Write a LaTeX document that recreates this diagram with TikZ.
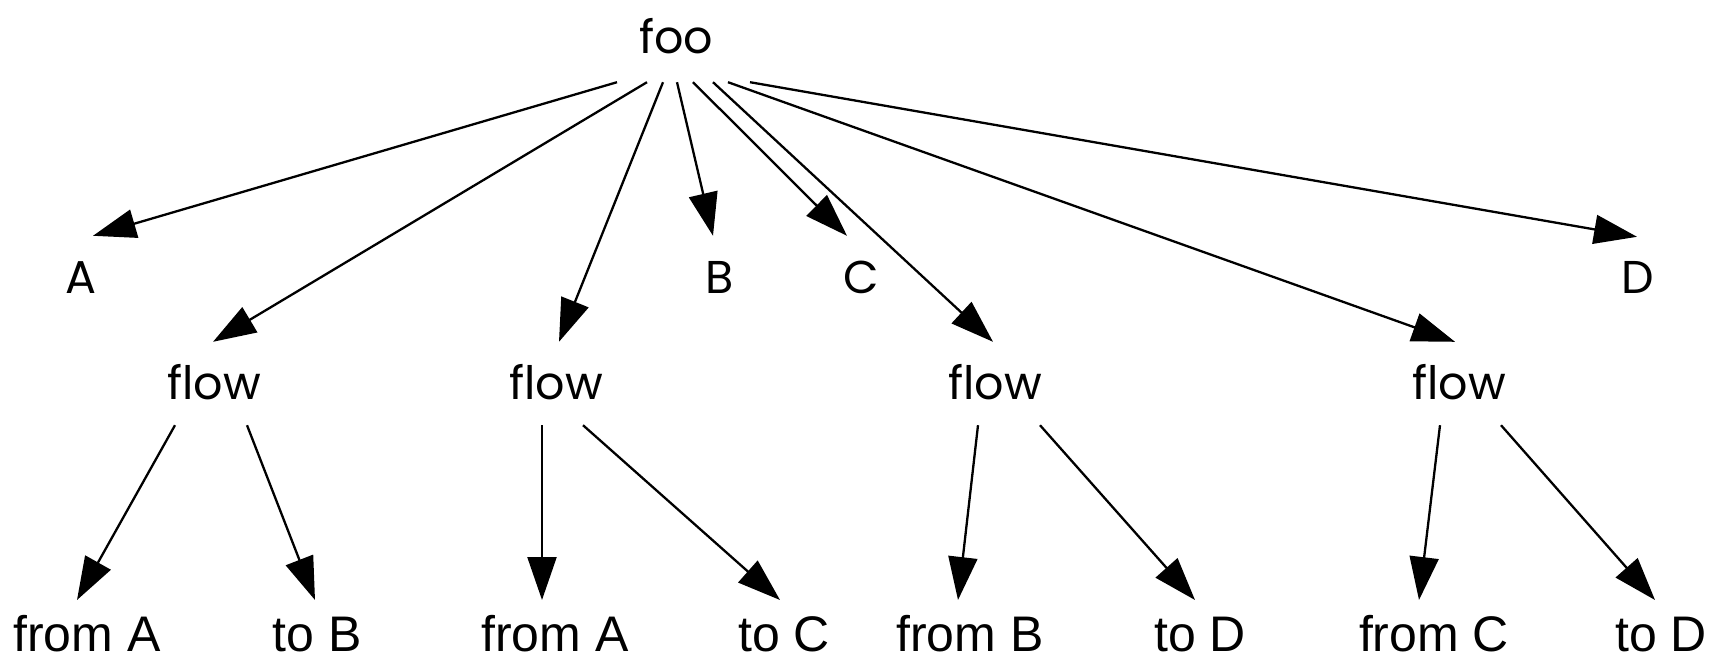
\documentclass[tikz,border=0pt]{standalone}
\usepackage{fontspec}
\setmainfont{Liberation Sans}
\newfontfamily\gothic{Poppins}
\usetikzlibrary{arrows.meta}
\begin{document}
\begin{tikzpicture}[x=1pt, y=-1pt,
  box/.style={rectangle, inner sep=0pt, minimum height=83pt,
              text height=40pt, text depth=8pt},
  upper/.style={box, font=\gothic\fontsize{46}{50}\selectfont},
  lower/.style={rectangle, inner sep=0pt, anchor=north,
                text height=51pt, text depth=10pt,
                font=\fontsize{50}{54}\selectfont},
  link/.style={line width=2.3pt, -{Triangle[length=43pt, width=29pt]}}]
\useasboundingbox (0,0) rectangle (1712,662);

% root
\node[upper, text depth=15pt] (foo) at (676,40.5) {foo};

% first level
\node[upper] (A) at (81,277.5)   {A};
\node[upper] (B) at (720,277.5)  {B};
\node[upper] (C) at (861,277.5)  {C};
\node[upper] (D) at (1638,277.5) {D};
\node[upper] (f1) at (214,383.5)  {flow};
\node[upper] (f2) at (556,383.5)  {flow};
\node[upper] (f3) at (995,383.5)  {flow};
\node[upper] (f4) at (1459,383.5) {flow};

% leaves of each flow (box top at the arrow tips)
\node[lower] (a1) at (87,600)   {from A};
\node[lower] (b1) at (317,600)  {to B};
\node[lower] (a2) at (555,600)  {from A};
\node[lower] (c2) at (784,600)  {to C};
\node[lower] (b3) at (970,600)  {from B};
\node[lower] (d3) at (1200,600) {to D};
\node[lower] (c4) at (1434,600) {from C};
\node[lower] (d4) at (1661,600) {to D};

% root edges
\draw[link] ([xshift=-59pt]foo.south) -- ([xshift=12pt]A.north);
\draw[link] ([xshift=-29pt]foo.south) -- ([xshift=-1pt]f1.north);
\draw[link] ([xshift=-13pt]foo.south) -- ([xshift=3pt]f2.north);
\draw[link] ([xshift=1pt]foo.south)   -- ([xshift=-7pt]B.north);
\draw[link] ([xshift=17pt]foo.south)  -- ([xshift=-14pt]C.north);
\draw[link] ([xshift=37pt]foo.south)  -- ([xshift=-2pt]f3.north);
\draw[link] ([xshift=52pt]foo.south)  -- ([xshift=-4pt]f4.north);
\draw[link] ([xshift=74pt]foo.south)  -- ([xshift=-1pt,yshift=-1pt]D.north);

% flow edges
\draw[link] ([xshift=-39pt]f1.south) -- ([xshift=-10pt]a1.north);
\draw[link] ([xshift=33pt]f1.south)  -- ([xshift=-2pt]b1.north);
\draw[link] ([xshift=-14pt]f2.south) -- ([xshift=-13pt]a2.north);
\draw[link] ([xshift=27pt]f2.south)  -- ([xshift=-4pt]c2.north);
\draw[link] ([xshift=-17pt]f3.south) -- ([xshift=-12pt]b3.north);
\draw[link] ([xshift=45pt]f3.south)  -- ([xshift=-5pt]d3.north);
\draw[link] ([xshift=-19pt]f4.south) -- ([xshift=-15pt]c4.north);
\draw[link] ([xshift=42pt]f4.south)  -- ([xshift=-6pt]d4.north);
\end{tikzpicture}
\end{document}
